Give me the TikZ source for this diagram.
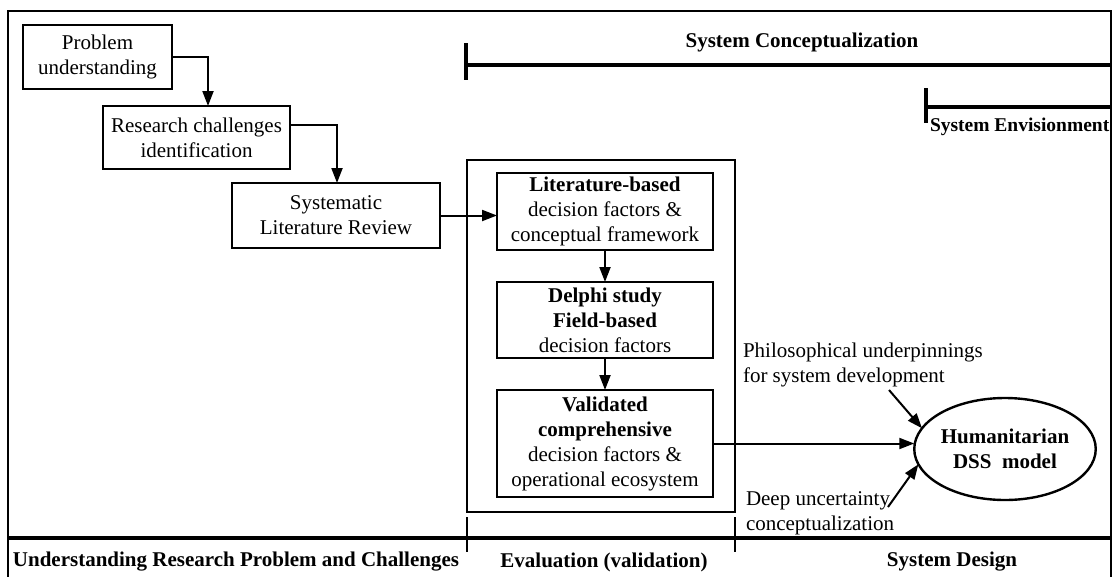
\documentclass[tikz,border=0pt]{standalone}
\usepackage{fontspec}
\setmainfont{Liberation Serif}
\usetikzlibrary{arrows.meta,shapes.geometric}
\begin{document}
\begin{tikzpicture}[x=1pt,y=-1pt,
  every node/.style={font=\fontsize{21}{25}\selectfont, inner sep=0pt, outer sep=0pt},
  stepbox/.style={draw, line width=2pt, align=center},
  arr/.style={line width=2pt, -{Triangle[length=15pt,width=11pt]}},
  phaseline/.style={line width=3.6pt},
  thinline/.style={line width=1.8pt},
  lbl/.style={font=\fontsize{21}{25}\selectfont\bfseries},
]
\useasboundingbox (0,0) rectangle (1114,576);
% outer frame
\draw[line width=2pt] (8,11) rectangle (1111,579);

% phase bars at the top
\draw[phaseline] (466,43) -- (466,80);
\draw[phaseline] (466,65) -- (1111,65);
\node[lbl] (conc) at (802,42) {System Conceptualization};
\draw[phaseline] (926,88) -- (926,123);
\draw[phaseline] (926,107) -- (1111,107);
\node[lbl, font=\fontsize{19.5}{24}\selectfont\bfseries, anchor=west] (envi) at (930,127) {System Envisionment};

% first column of steps
\node[stepbox, minimum width=149pt, minimum height=64pt] (prob) at (97.5,57) {Problem\\understanding};
\node[stepbox, minimum width=187pt, minimum height=63pt] (rc) at (196.5,137.5) {Research challenges\\identification};
\node[stepbox, minimum width=208pt, minimum height=65pt] (slr) at (336,215.5) {Systematic\\Literature Review};

% evaluation block
\node[draw, line width=1.6pt, minimum width=268pt, minimum height=352pt] (evalbox) at (601,336) {};
\node[stepbox, minimum width=216pt, minimum height=77pt] (lit) at (605,211.5) {\textbf{Literature-based}\\decision factors \&\\conceptual framework};
\node[stepbox, minimum width=216pt, minimum height=76pt] (delphi) at (605,320) {\textbf{Delphi study}\\\textbf{Field-based}\\decision factors};
\node[stepbox, minimum width=216pt, minimum height=107pt] (valid) at (605,443.5) {\textbf{Validated}\\\textbf{comprehensive}\\decision factors \&\\operational ecosystem};

% resulting model
\node[ellipse, draw, line width=2.4pt, minimum width=176pt, minimum height=102pt, align=center, font=\fontsize{21}{25}\selectfont\bfseries] (hum) at (1005,449) {Humanitarian\\DSS~~model};

% side notes
\node[anchor=west, align=left] (phil) at (743,364.5) {Philosophical underpinnings\\for system development};
\node[anchor=west, align=left] (deep) at (746,513.5) {Deep uncertainty\\conceptualization};
\coordinate (philend) at (889,390);
\coordinate (deepend) at (888,507);

% connectors
\draw[arr] (prob.east) -| ([xshift=11.5pt]rc.north);
\draw[arr] ([yshift=12.5pt]rc.east) -| ([xshift=1pt]slr.north);
\draw[arr] (slr.east) -- (slr.east -| lit.west);
\draw[arr] (lit.south) -- (delphi.north);
\draw[arr] (delphi.south) -- (valid.north);
\draw[arr] (valid.east) -- (valid.east -| hum.west);
\draw[arr] (philend) -- (hum.166);
\draw[arr] (deepend) -- (hum.190);

% phase bar at the bottom
\draw[line width=3.6pt] (8,538) -- (1111,538);
\draw[thinline] (467,517) -- (467,552);
\draw[thinline] (735,517) -- (735,552);
\node[lbl] (under) at (236,562) {Understanding Research Problem and Challenges};
\node[lbl] (evalp) at (604,562) {Evaluation (validation)};
\node[lbl] (design) at (952,562) {System Design};
\end{tikzpicture}
\end{document}
